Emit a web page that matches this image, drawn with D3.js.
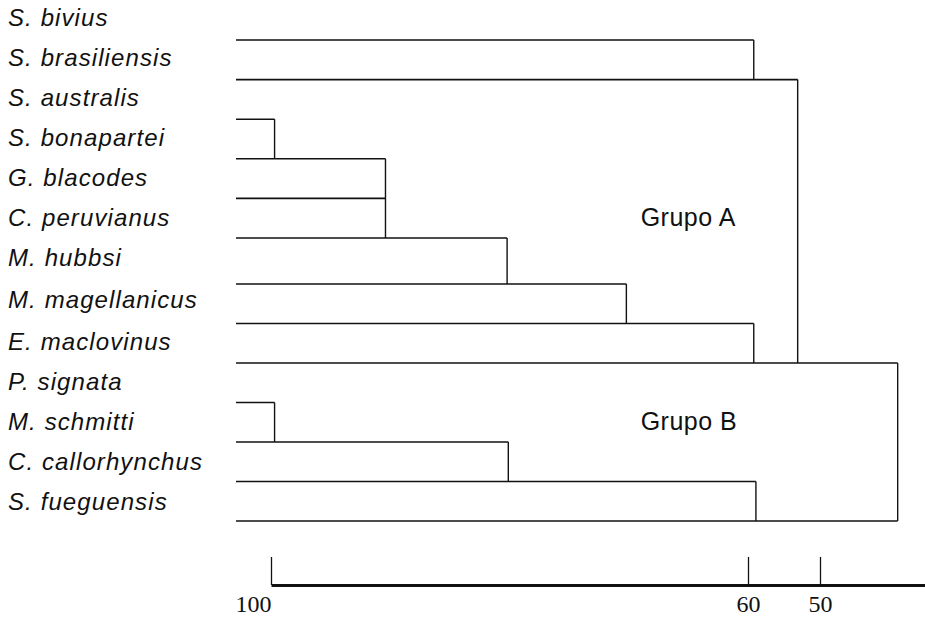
<!DOCTYPE html>
<html>
<head>
<meta charset="utf-8">
<script src="https://cdn.jsdelivr.net/npm/d3@7"></script>
<style>
  html, body { margin: 0; padding: 0; background: #fff; }
  svg { display: block; }
</style>
</head>
<body>
<svg id="chart" width="925" height="621"></svg>
<script>
// ---- data ----
const species = [
  "S. bivius", "S. brasiliensis", "S. australis", "S. bonapartei",
  "G. blacodes", "C. peruvianus", "M. hubbsi", "M. magellanicus",
  "E. maclovinus", "P. signata", "M. schmitti", "C. callorhynchus",
  "S. fueguensis"
];
// similarity (%) at which each leaf's branch ends
const joinLevel = [59.2, 53.1, 99.7, 90.4, 90.4, 80.2, 70.2, 59.2, 39.2, 99.7, 80.1, 58.9, 39.2];
// index of the branch that the vertical connector reaches (null = none)
const joinTo = [1, 8, 3, 5, null, 6, 7, 8, 12, 10, 11, 12, null];
const groupLabels = ["Grupo A", "Grupo B"];
const groupRows = [4.46, 9.46];
const groupLevel = [69.0, 69.0];
const tickValues = [100, 60, 50];

// ---- layout ----
const svg = d3.select("#chart");
const x = d3.scaleLinear().domain([100, 60, 50, 35.4]).range([271, 748, 820, 925]);
const leafStartX = 236;
const yLine = d3.scaleLinear().domain([0, 5, 6, 12]).range([40, 238, 284, 521]);
const yLabel = d3.scaleLinear().domain([0, 6, 8, 12]).range([17, 257, 341, 501]);

// species labels
svg.append("g").selectAll("text").data(species).join("text")
  .attr("x", 8)
  .attr("y", (d, i) => yLabel(i))
  .attr("dy", "0.36em")
  .attr("font-family", "'Liberation Sans', Arial, sans-serif")
  .attr("font-style", "italic")
  .attr("font-size", 24)
  .attr("letter-spacing", 1.1)
  .attr("fill", "#111")
  .text(d => d);

// horizontal branches
const g = svg.append("g").attr("stroke", "#111").attr("fill", "none");
g.selectAll("line.h").data(joinLevel).join("line")
  .attr("class", "h")
  .attr("x1", leafStartX)
  .attr("x2", d => x(d))
  .attr("y1", (d, i) => yLine(i))
  .attr("y2", (d, i) => yLine(i))
  .attr("stroke-width", 1.6);

// vertical connectors
const verts = joinLevel.map((lv, i) => ({ lv, i, to: joinTo[i] })).filter(d => d.to !== null);
g.selectAll("line.v").data(verts).join("line")
  .attr("class", "v")
  .attr("x1", d => x(d.lv))
  .attr("x2", d => x(d.lv))
  .attr("y1", d => yLine(d.i))
  .attr("y2", d => yLine(d.to))
  .attr("stroke-width", 1.4);

// group labels
svg.append("g").selectAll("text").data(groupLabels).join("text")
  .attr("x", (d, i) => x(groupLevel[i]))
  .attr("y", (d, i) => yLine(groupRows[i]))
  .attr("dy", "0.36em")
  .attr("font-family", "'Liberation Sans', Arial, sans-serif")
  .attr("font-size", 25)
  .attr("letter-spacing", 0.5)
  .attr("fill", "#111")
  .text(d => d);

// axis
const axis = d3.axisBottom(x)
  .tickValues(tickValues)
  .tickSizeInner(-28)
  .tickSizeOuter(0)
  .tickPadding(10)
  .tickFormat(d3.format("d"));
const ag = svg.append("g").attr("transform", "translate(0,585)").call(axis);
ag.select(".domain").attr("stroke", "#111").attr("stroke-width", 3);
ag.selectAll(".tick line").attr("stroke", "#111").attr("stroke-width", 1.3);
ag.selectAll(".tick text")
  .attr("font-family", "'Liberation Serif', 'Times New Roman', serif")
  .attr("font-size", 24)
  .attr("fill", "#111")
  .attr("text-anchor", d => d === 100 ? "end" : "middle");
</script>
</body>
</html>
